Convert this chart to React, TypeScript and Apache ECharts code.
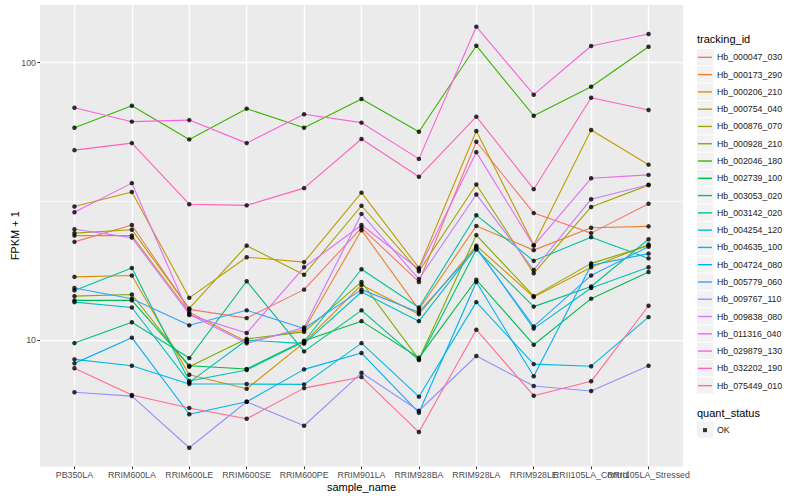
import React, { useEffect, useRef } from "react";
import * as echarts from "echarts";

const samples = [
  "PB350LA", "RRIM600LA", "RRIM600LE", "RRIM600SE", "RRIM600PE", "RRIM901LA",
  "RRIM928BA", "RRIM928LA", "RRIM928LE", "RRII105LA_Control", "RRII105LA_Stressed",
];

const trackingIds = [
  "Hb_000047_030", "Hb_000173_290", "Hb_000206_210", "Hb_000754_040", "Hb_000876_070",
  "Hb_000928_210", "Hb_002046_180", "Hb_002739_100", "Hb_003053_020", "Hb_003142_020",
  "Hb_004254_120", "Hb_004635_100", "Hb_004724_080", "Hb_005779_060", "Hb_009767_110",
  "Hb_009838_080", "Hb_011316_040", "Hb_029879_130", "Hb_032202_190", "Hb_075449_010",
];

const colors = [
  "#F8766D", "#EA8331", "#D89000", "#C09B00", "#A3A500", "#7CAE00", "#39B600", "#00BB4E",
  "#00BF7D", "#00C1A3", "#00BFC4", "#00BAE0", "#00B0F6", "#35A2FF", "#9590FF", "#C77CFF",
  "#E76BF3", "#FA62DB", "#FF62BC", "#FF6C91",
];

// FPKM + 1 per sample (same order as samples)
const Hb_000047_030 = [22.6, 26.0, 12.9, 12.0, 15.2, 25.4, 16.2, 51.9, 28.7, 24.3, 31.0];
const Hb_000173_290 = [23.8, 23.8, 12.6, 9.86, 10.9, 24.9, 12.9, 25.8, 21.1, 25.4, 25.7];
const Hb_000206_210 = [16.9, 17.1, 7.5, 6.67, 9.79, 15.8, 12.4, 21.9, 14.3, 18.3, 22.1];
const Hb_000754_040 = [30.3, 34.2, 14.2, 19.9, 19.1, 34.0, 18.2, 56.7, 22.0, 57.2, 42.9];
const Hb_000876_070 = [24.3, 25.0, 13.0, 21.9, 17.2, 30.5, 17.7, 36.4, 17.4, 30.2, 36.2];
const Hb_000928_210 = [14.4, 14.6, 8.01, 10.1, 10.7, 16.2, 8.52, 23.9, 14.4, 18.9, 21.9];
const Hb_002046_180 = [58.3, 70.0, 52.9, 68.3, 58.3, 74.0, 56.4, 115.2, 64.4, 81.9, 114.2];
const Hb_002739_100 = [13.9, 13.9, 8.08, 7.86, 9.94, 11.7, 8.63, 16.5, 9.62, 14.1, 17.6];
const Hb_003053_020 = [9.75, 11.6, 8.61, 16.3, 9.1, 12.8, 8.47, 21.2, 13.2, 15.6, 23.1];
const Hb_003142_020 = [15.1, 18.2, 7.12, 7.8, 9.88, 18.0, 13.1, 28.2, 19.3, 23.5, 19.7];
const Hb_004254_120 = [13.7, 13.1, 7.04, 10.0, 9.71, 14.9, 11.7, 21.6, 11.0, 15.4, 18.3];
const Hb_004635_100 = [8.52, 8.08, 6.94, 6.94, 6.92, 9.75, 6.25, 13.7, 8.19, 8.05, 12.1];
const Hb_004724_080 = [8.24, 10.2, 5.4, 5.99, 7.84, 8.98, 5.47, 16.2, 7.4, 18.6, 20.5];
const Hb_005779_060 = [15.4, 14.1, 11.3, 12.8, 11.0, 15.2, 12.6, 21.4, 11.2, 17.1, 21.7];
const Hb_009767_110 = [6.48, 6.28, 4.09, 5.99, 4.91, 7.62, 5.56, 8.76, 6.83, 6.55, 8.08];
const Hb_009838_080 = [25.1, 23.4, 12.4, 9.73, 11.1, 28.5, 16.6, 33.5, 17.9, 32.2, 36.3];
const Hb_011316_040 = [28.9, 36.8, 12.3, 10.6, 18.3, 26.0, 18.0, 47.6, 21.9, 38.3, 39.4];
const Hb_029879_130 = [68.8, 61.3, 62.1, 51.3, 65.2, 60.8, 45.0, 134.9, 76.7, 114.9, 126.9];
const Hb_032202_190 = [48.4, 51.3, 30.9, 30.6, 35.3, 53.1, 38.8, 63.9, 35.0, 74.8, 67.5];
const Hb_075449_010 = [7.91, 6.34, 5.69, 5.2, 6.71, 7.36, 4.66, 10.9, 6.3, 7.1, 13.3];

const seriesValues = [
  Hb_000047_030, Hb_000173_290, Hb_000206_210, Hb_000754_040, Hb_000876_070,
  Hb_000928_210, Hb_002046_180, Hb_002739_100, Hb_003053_020, Hb_003142_020,
  Hb_004254_120, Hb_004635_100, Hb_004724_080, Hb_005779_060, Hb_009767_110,
  Hb_009838_080, Hb_011316_040, Hb_029879_130, Hb_032202_190, Hb_075449_010,
];

const quantStatus = ["OK"];
const yTicks = [10, 100];
const yMinorTicks = [31.6227766];

const FONT = "Liberation Sans";

export default function App() {
  const ref = useRef<HTMLDivElement>(null);

  useEffect(() => {
    if (!ref.current) return;
    const chart = echarts.init(ref.current, null, { renderer: "svg" });

    const sampleIdx = samples.map((_, i) => i);
    const evenIdx = sampleIdx.filter((i) => i % 2 === 0);
    const oddIdx = sampleIdx.filter((i) => i % 2 === 1);

    const lineSeries = trackingIds.map((id, k) => ({
      name: id,
      type: "line",
      color: colors[k],
      showSymbol: false,
      symbol: "none",
      xAxisIndex: 0,
      yAxisIndex: 0,
      lineStyle: { width: 1.1, color: colors[k] },
      data: seriesValues[k].map((v, i) => [i, v]),
      z: 2,
    }));

    const pointData: number[][] = [];
    seriesValues.forEach((vals) => vals.forEach((v, i) => pointData.push([i, v])));

    const keyRects: any[] = [];
    for (let i = 0; i < trackingIds.length; i++) {
      keyRects.push({
        type: "rect",
        shape: { x: 697, y: 49 + i * 17.28, width: 16.5, height: 16.3 },
        style: { fill: "#F2F2F2" },
        z: 0,
      });
    }
    keyRects.push({
      type: "rect",
      shape: { x: 697, y: 421.5, width: 16.5, height: 16.3 },
      style: { fill: "#F2F2F2" },
      z: 0,
    });

    const labelStyle = {
      fontSize: 8.8,
      color: "#4D4D4D",
      margin: 4,
      fontFamily: FONT,
      hideOverlap: false,
      showMinLabel: true,
      showMaxLabel: true,
    };

    const option: any = {
      animation: false,
      backgroundColor: "#FFFFFF",
      textStyle: { fontFamily: FONT },
      grid: {
        left: 40,
        right: 117,
        top: 5,
        bottom: 33.5,
        show: true,
        backgroundColor: "#EBEBEB",
        borderWidth: 0,
        containLabel: false,
        outerBoundsMode: "none",
      },
      xAxis: [
        {
          type: "value",
          min: -0.6,
          max: samples.length - 1 + 0.6,
          position: "bottom",
          name: "sample_name",
          nameLocation: "middle",
          nameGap: 15,
          nameMoveOverlap: false,
          nameTextStyle: { fontSize: 11, color: "#000", fontFamily: FONT },
          axisLine: { show: false, onZero: false },
          axisTick: {
            show: true,
            customValues: sampleIdx,
            length: 2.75,
            lineStyle: { color: "#333333", width: 1 },
          },
          axisLabel: {
            ...labelStyle,
            customValues: evenIdx,
            formatter: (v: number) => samples[Math.round(v)] ?? "",
          },
          splitLine: { show: true, lineStyle: { color: "#FFFFFF", width: 1.4 } },
        },
        {
          type: "value",
          min: -0.6,
          max: samples.length - 1 + 0.6,
          position: "bottom",
          offset: 0,
          axisLine: { show: false, onZero: false },
          axisTick: { show: false, customValues: oddIdx },
          axisLabel: {
            ...labelStyle,
            customValues: oddIdx,
            formatter: (v: number) => samples[Math.round(v)] ?? "",
          },
          splitLine: { show: false },
        },
      ],
      yAxis: [
        {
          type: "log",
          logBase: 10,
          min: 3.5,
          max: 161.5,
          position: "left",
          name: "FPKM + 1",
          nameLocation: "middle",
          nameGap: 20,
          nameMoveOverlap: false,
          nameRotate: 90,
          nameTextStyle: { fontSize: 11, color: "#000", fontFamily: FONT },
          axisLine: { show: false, onZero: false },
          axisTick: {
            show: true,
            customValues: yTicks,
            length: 2.75,
            lineStyle: { color: "#333333", width: 1 },
          },
          axisLabel: {
            ...labelStyle,
            customValues: yTicks,
            formatter: (v: number) => String(Math.round(v)),
          },
          splitLine: { show: true, lineStyle: { color: "#FFFFFF", width: 1.4 } },
        },
        {
          type: "log",
          logBase: 10,
          min: 3.5,
          max: 161.5,
          position: "left",
          axisLine: { show: false, onZero: false },
          axisTick: { show: false, customValues: yMinorTicks },
          axisLabel: { show: false, customValues: yMinorTicks },
          splitLine: { show: true, lineStyle: { color: "#FFFFFF", width: 0.7 } },
        },
      ],
      legend: [
        {
          data: trackingIds,
          orient: "vertical",
          left: 698,
          top: 48.7,
          padding: 0,
          itemGap: 0,
          itemWidth: 14,
          itemHeight: 1.4,
          icon: "rect",
          selectedMode: false,
          textStyle: { fontSize: 8.8, color: "#1A1A1A", lineHeight: 17.28, fontFamily: FONT },
        },
        {
          data: quantStatus,
          orient: "vertical",
          left: 703,
          top: 421.5,
          padding: 0,
          itemGap: 0,
          itemWidth: 4,
          itemHeight: 4,
          icon: "rect",
          selectedMode: false,
          textStyle: {
            fontSize: 8.8,
            color: "#1A1A1A",
            lineHeight: 17.28,
            padding: [0, 0, 0, 5],
            fontFamily: FONT,
          },
        },
      ],
      graphic: [
        {
          type: "text",
          left: 697,
          top: 33,
          style: { text: "tracking_id", fontSize: 11, fill: "#000", fontFamily: FONT },
        },
        {
          type: "text",
          left: 697,
          top: 407,
          style: { text: "quant_status", fontSize: 11, fill: "#000", fontFamily: FONT },
        },
        ...keyRects,
      ],
      series: [
        ...lineSeries,
        {
          name: "OK",
          type: "scatter",
          symbol: "circle",
          symbolSize: 4.5,
          xAxisIndex: 0,
          yAxisIndex: 0,
          itemStyle: { color: "#000000" },
          data: pointData,
          z: 3,
        },
      ],
    };

    chart.setOption(option);
    return () => chart.dispose();
  }, []);

  return (
    <div
      ref={ref}
      style={{ position: "absolute", left: 0, top: 0, width: 800, height: 500 }}
    />
  );
}
